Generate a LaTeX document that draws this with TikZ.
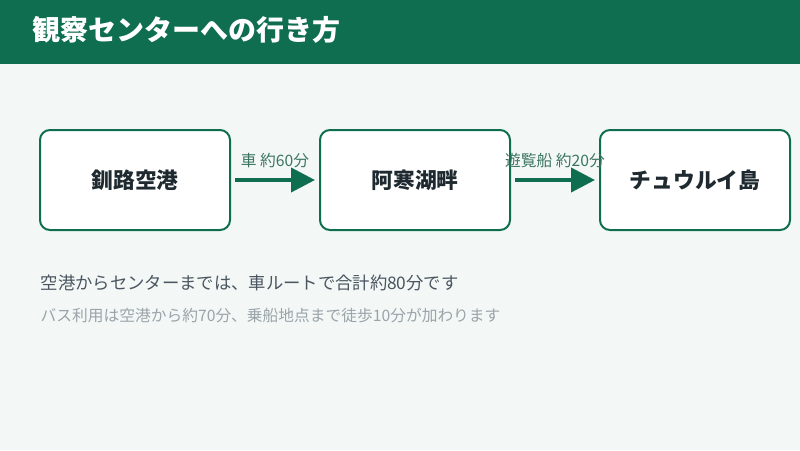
\documentclass[tikz,border=0pt]{standalone}
\usepackage{fontspec}
\setmainfont{Noto Sans CJK JP}
\usetikzlibrary{arrows.meta,positioning}
\definecolor{hdgreen}{HTML}{0F6E50}
\definecolor{bgpale}{HTML}{F3F8F6}
\definecolor{txtdark}{HTML}{1F2A30}
\definecolor{txtgray}{HTML}{4A5560}
\definecolor{txtlight}{HTML}{9AA3A8}
\tikzset{
  stop/.style={draw=hdgreen, line width=1.5pt, fill=white, rounded corners=7.5pt,
    minimum width=142.5pt, minimum height=75pt, inner sep=0pt,
    font=\fontsize{16.3}{19}\selectfont\bfseries, text=txtdark},
  route/.style={draw=hdgreen, line width=3pt, -{Triangle[length=18pt,width=18pt]}, shorten <=3pt, shorten >=3pt},
  routelabel/.style={font=\fontsize{11.8}{13}\selectfont, text=hdgreen!60!gray}
}
\begin{document}
\begin{tikzpicture}[x=0.75pt,y=-0.75pt]
		\fill[bgpale] (0,0) rectangle (800,450);
		\fill[hdgreen] (0,0) rectangle (800,64);
		\node[anchor=west, text=white, font=\fontsize{21}{24}\selectfont\bfseries] (title) at (28,30) {観察センターへの行き方};
		% stops along the route
		\node[stop] (kushiro) at (135,180) {釧路空港};
		\node[stop] (akan) at (415,180) {阿寒湖畔};
		\node[stop] (chuwrui) at (695,180) {チュウルイ島};
		\draw[route] (kushiro) -- node[routelabel, above=4pt] {車 約60分} (akan);
		\draw[route] (akan) -- node[routelabel, above=4pt] {遊覧船 約20分} (chuwrui);
		% notes
		\node[anchor=west, text=txtgray, font=\fontsize{13}{15}\selectfont] (note) at (36,283) {空港からセンターまでは、車ルートで合計約80分です};
		\node[anchor=west, text=txtlight, font=\fontsize{11.8}{13}\selectfont] (bus) at (36,316) {バス利用は空港から約70分、乗船地点まで徒歩10分が加わります};
\end{tikzpicture}
\end{document}
